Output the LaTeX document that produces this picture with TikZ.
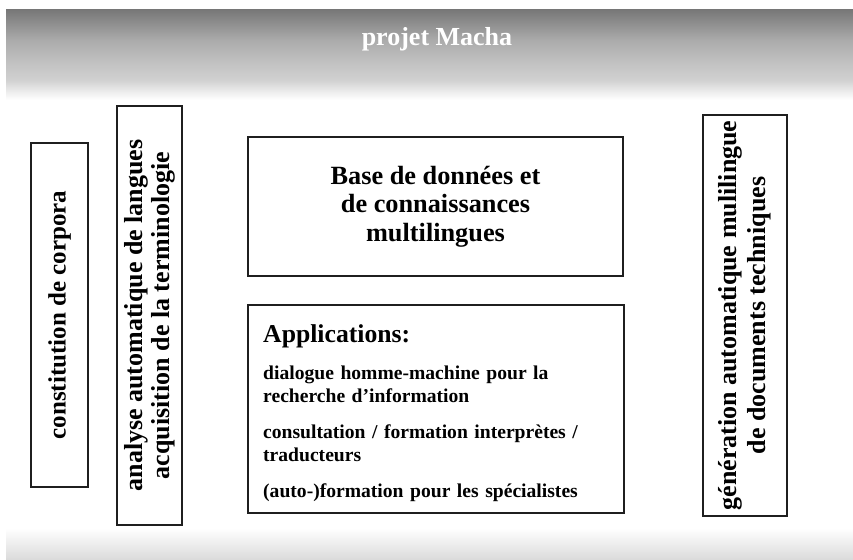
\documentclass[tikz,border=0pt]{standalone}
\usepackage{fontspec}
\setmainfont{Liberation Serif}
\pgfdeclareverticalshading{topband}{100bp}{color(0bp)=(white); color(25bp)=(white); color(29bp)=(black!6); color(36bp)=(black!18); color(47.2bp)=(black!25); color(58.3bp)=(black!33); color(75bp)=(black!53); color(100bp)=(black!53)}
\pgfdeclareverticalshading{botband}{100bp}{color(0bp)=(black!14); color(25bp)=(black!14); color(75bp)=(white); color(100bp)=(white)}
\begin{document}
\begin{tikzpicture}[x=1pt,y=-1pt,
  box/.style={draw=black!88, line width=2pt, inner sep=0pt, font=\bfseries},
  vbox/.style={box, rotate=90, align=center},
  itemtext/.style={anchor=base west, inner sep=0pt, text width=355pt, align=left, font=\fontsize{19.6}{23.7}\selectfont\bfseries}]
\useasboundingbox (0,0) rectangle (853,559);
\fill[white] (0,0) rectangle (853,559);
\shade[shading=topband] (6,10) rectangle (853,100);
\shade[shading=botband] (6,528) rectangle (853,559);
\node[text=white, inner sep=0pt, anchor=base, font=\fontsize{26}{28}\selectfont\bfseries] (title) at (437,46) {projet Macha};
% left vertical boxes
\node[vbox, minimum width=344pt, minimum height=57pt, font=\fontsize{25}{28}\selectfont\bfseries] (corpora) at (59.5,315) {constitution de corpora};
\node[vbox, minimum width=419pt, minimum height=65pt, font=\fontsize{26}{27}\selectfont\bfseries] (analyse) at (149.5,315.5) {analyse automatique de langues\\acquisition de la terminologie};
% right vertical box
\node[vbox, minimum width=401pt, minimum height=84pt, font=\fontsize{26}{29}\selectfont\bfseries] (generation) at (745,315.5) {génération automatique mulilingue\\de documents techniques};
% central boxes
\node[box, align=center, minimum width=375pt, minimum height=139pt, font=\fontsize{26.3}{28.5}\selectfont\bfseries] (base) at (435.5,206.5) {Base de données et\\de connaissances\\multilingues};
\node[box, minimum width=376pt, minimum height=208pt] (apps) at (436,409) {};
\node[anchor=base west, inner sep=0pt, font=\fontsize{25.7}{28}\selectfont\bfseries] (apptitle) at (263,342.7) {Applications:};
\node[itemtext] (item1) at (263,379) {dialogue homme-machine pour la\\recherche d’information};
\node[itemtext] (item2) at (263,438) {consultation / formation interprètes /\\traducteurs};
\node[itemtext] (item3) at (263,497.3) {(auto-)formation pour les spécialistes};
\end{tikzpicture}
\end{document}
